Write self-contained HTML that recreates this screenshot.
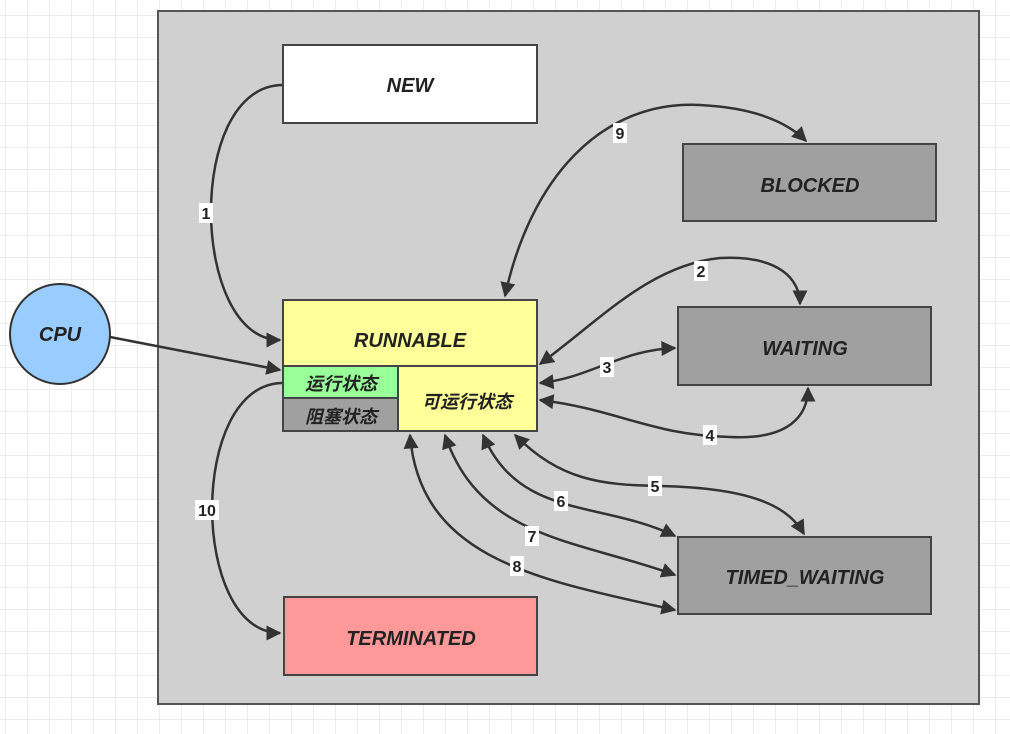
<!DOCTYPE html>
<html><head><meta charset="utf-8"><style>
body{margin:0;background:#fff;}
svg{display:block;}
.t{font-family:"Liberation Sans","Noto Sans CJK SC",sans-serif;font-weight:bold;font-style:italic;fill:#222;}
.l{font-family:"Liberation Sans",sans-serif;font-weight:bold;font-size:16px;fill:#222;}
</style></head><body>
<svg width="1010" height="734" viewBox="0 0 1010 734" xmlns="http://www.w3.org/2000/svg">
<defs>
<pattern id="g" x="5" y="15" width="22" height="22" patternUnits="userSpaceOnUse">
<path d="M0 0H22M0 0V22" stroke="#e6e6e6" stroke-width="1.5" fill="none"/>
</pattern>
<marker id="a" viewBox="0 0 10 10" refX="9" refY="5" markerWidth="6.5" markerHeight="6" orient="auto-start-reverse" markerUnits="strokeWidth">
<path d="M0 0L10 5L0 10z" fill="#333"/>
</marker>
</defs>
<rect width="1010" height="734" fill="url(#g)"/>
<rect x="158" y="11" width="821" height="693" fill="#d0d0d0" stroke="#555" stroke-width="2"/>

<g fill="none" stroke="#333" stroke-width="2.5">
<path d="M283,85 C185,85 190,340 280,340" marker-end="url(#a)"/>
<path d="M110,337 L280,370" marker-end="url(#a)"/>
<path d="M505,296 C530,180 600,100 700,105 C760,108 790,125 806,141" marker-start="url(#a)" marker-end="url(#a)"/>
<path d="M540,364 C600,320 650,265 720,258 C780,255 800,280 800,304" marker-start="url(#a)" marker-end="url(#a)"/>
<path d="M540,383 C590,378 620,350 675,348" marker-start="url(#a)" marker-end="url(#a)"/>
<path d="M540,400 C620,410 650,435 730,437 C790,440 808,415 808,388" marker-start="url(#a)" marker-end="url(#a)"/>
<path d="M515,435 C560,480 600,485 660,486 C760,488 790,510 804,534" marker-start="url(#a)" marker-end="url(#a)"/>
<path d="M483,435 C520,520 600,500 675,536" marker-start="url(#a)" marker-end="url(#a)"/>
<path d="M445,435 C480,540 580,540 675,575" marker-start="url(#a)" marker-end="url(#a)"/>
<path d="M410,435 C420,560 540,580 675,610" marker-start="url(#a)" marker-end="url(#a)"/>
<path d="M283,383 C188,383 190,633 280,633" marker-end="url(#a)"/>
</g>

<circle cx="60" cy="334" r="50" fill="#99ccff" stroke="#333" stroke-width="2"/>
<text class="t" x="60" y="341" font-size="20" text-anchor="middle">CPU</text>

<g stroke="#444" stroke-width="2">
<rect x="283" y="45" width="254" height="78" fill="#fff"/>
<rect x="683" y="144" width="253" height="77" fill="#a0a0a0"/>
<rect x="678" y="307" width="253" height="78" fill="#a0a0a0"/>
<rect x="678" y="537" width="253" height="77" fill="#a0a0a0"/>
<rect x="284" y="597" width="253" height="78" fill="#ff9999"/>
<rect x="283" y="300" width="254" height="66" fill="#ffff99"/>
<rect x="398" y="366" width="139" height="65" fill="#ffff99"/>
<rect x="283" y="366" width="115" height="32" fill="#99ff99"/>
<rect x="283" y="398" width="115" height="33" fill="#a0a0a0"/>
</g>
<text class="t" x="410" y="92" font-size="20" text-anchor="middle">NEW</text>
<text class="t" x="810" y="192" font-size="20" text-anchor="middle">BLOCKED</text>
<text class="t" x="805" y="355" font-size="20" text-anchor="middle">WAITING</text>
<text class="t" x="805" y="584" font-size="20" text-anchor="middle">TIMED_WAITING</text>
<text class="t" x="411" y="645" font-size="20" text-anchor="middle">TERMINATED</text>
<text class="t" x="410" y="347" font-size="20" text-anchor="middle">RUNNABLE</text>
<text class="t" x="341" y="390" font-size="18" text-anchor="middle">运行状态</text>
<text class="t" x="341" y="423" font-size="18" text-anchor="middle">阻塞状态</text>
<text class="t" x="467" y="408" font-size="18" text-anchor="middle">可运行状态</text>

<g fill="#fff">
<rect x="199" y="203" width="14" height="20"/>
<rect x="613" y="123" width="14" height="20"/>
<rect x="694" y="261" width="14" height="20"/>
<rect x="600" y="357" width="14" height="20"/>
<rect x="703" y="425" width="14" height="20"/>
<rect x="648" y="476" width="14" height="20"/>
<rect x="554" y="491" width="14" height="20"/>
<rect x="525" y="526" width="14" height="20"/>
<rect x="510" y="556" width="14" height="20"/>
<rect x="195" y="500" width="24" height="20"/>
</g>
<g class="l" text-anchor="middle">
<text x="206" y="219">1</text>
<text x="620" y="139">9</text>
<text x="701" y="277">2</text>
<text x="607" y="373">3</text>
<text x="710" y="441">4</text>
<text x="655" y="492">5</text>
<text x="561" y="507">6</text>
<text x="532" y="542">7</text>
<text x="517" y="572">8</text>
<text x="207" y="516">10</text>
</g>
</svg>
</body></html>
